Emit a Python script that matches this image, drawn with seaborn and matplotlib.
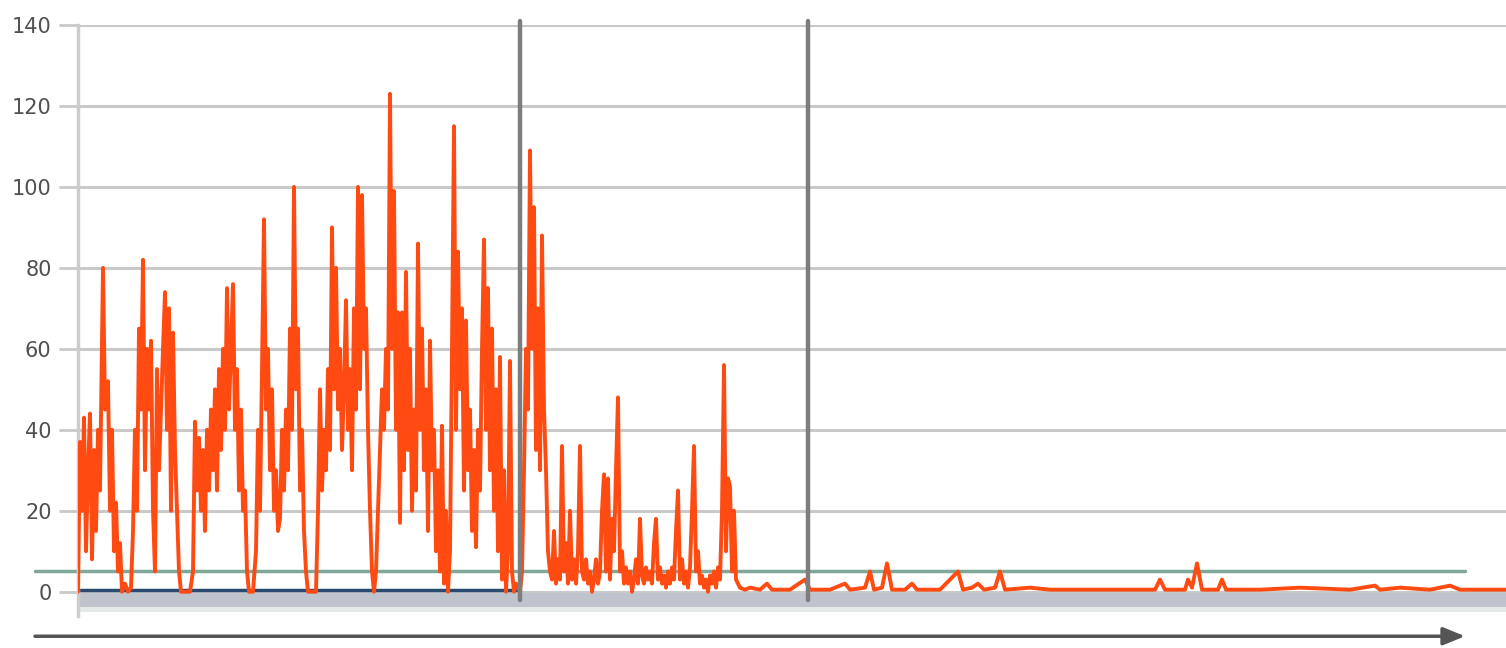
import numpy as np
import pandas as pd
import seaborn as sns
import matplotlib
matplotlib.use("Agg")
import matplotlib.pyplot as plt

# ---- data (time index, value) ----
t = [78, 80, 82, 84, 86, 88, 90, 92, 94, 96, 98, 100, 103, 105, 108, 110, 112, 114, 116, 118,
     120, 122, 125, 128, 131, 133, 135, 137, 139, 141, 143, 145, 147, 149, 151, 153, 155, 157,
     159, 161, 163, 165, 167, 169, 171, 173, 175, 177, 179, 181, 185, 190, 193, 195, 197, 199,
     201, 203, 205, 207, 209, 211, 213, 215, 217, 219, 221, 223, 225, 227, 229, 231, 233, 235,
     237, 239, 241, 243, 245, 247, 249, 253, 256, 258, 260, 262, 264, 266, 268, 270, 272, 274,
     276, 278, 280, 282, 284, 286, 288, 290, 292, 294, 296, 298, 300, 302, 304, 306, 308, 312,
     316, 318, 320, 322, 324, 326, 328, 330, 332, 334, 336, 338, 340, 342, 344, 346, 348, 350,
     352, 354, 356, 358, 360, 362, 364, 366, 368, 370, 372, 374, 376, 378, 380, 382, 384, 386,
     388, 390, 392, 394, 396, 398, 400, 402, 404, 406, 408, 410, 412, 414, 416, 418, 420, 422,
     424, 426, 428, 430, 432, 434, 436, 438, 440, 442, 444, 446, 448, 450, 452, 454, 456, 458,
     460, 462, 464, 466, 468, 470, 472, 474, 476, 478, 480, 482, 484, 486, 488, 490, 492, 494,
     496, 498, 500, 502, 504, 506, 508, 510, 512, 514, 516, 520, 522, 524, 526, 528, 530, 532,
     534, 536, 538, 540, 542, 544, 546, 548, 550, 552, 554, 556, 558, 560, 562, 564, 566, 568,
     570, 572, 574, 576, 578, 580, 582, 584, 586, 588, 590, 592, 594, 596, 598, 600, 602, 604,
     606, 608, 610, 612, 614, 616, 618, 620, 622, 624, 626, 628, 630, 632, 634, 636, 638, 640,
     642, 644, 646, 648, 650, 652, 654, 656, 658, 660, 662, 664, 666, 668, 670, 672, 674, 676,
     678, 680, 682, 684, 686, 688, 690, 692, 694, 696, 698, 700, 702, 704, 706, 708, 710, 712,
     714, 716, 718, 720, 722, 724, 726, 728, 730, 732, 734, 736, 738, 740, 745,
     750, 760, 767, 772, 790, 805, 810, 830, 845, 850, 865, 870, 874, 882, 887, 892, 905, 912,
     917, 940, 958, 963, 972, 978, 984, 995, 1000, 1005, 1030, 1050, 1100, 1155, 1160, 1165,
     1185, 1188, 1192, 1197, 1202, 1218, 1222, 1226, 1260, 1300, 1350, 1375, 1380, 1400, 1430,
     1450, 1460, 1506]
value = [0, 37, 20, 43, 10, 30, 44, 8, 35, 15, 40, 25, 80, 45, 52, 20, 40, 10, 22, 5,
         12, 0, 2, 0, 1, 15, 40, 20, 65, 45, 82, 30, 60, 45, 62, 20, 5, 55,
         30, 45, 60, 74, 40, 70, 20, 64, 35, 20, 5, 0, 0, 0, 5, 42, 25, 38,
         20, 35, 15, 40, 25, 45, 30, 50, 25, 55, 35, 60, 40, 75, 45, 60, 76, 40,
         55, 25, 45, 20, 25, 5, 0, 0, 10, 40, 20, 55, 92, 45, 60, 30, 50, 20,
         30, 15, 18, 40, 25, 45, 30, 65, 40, 100, 50, 65, 25, 40, 15, 5, 0, 0,
         0, 20, 50, 25, 40, 30, 55, 35, 90, 50, 80, 45, 60, 35, 50, 72, 40, 55,
         30, 70, 45, 100, 50, 98, 60, 70, 40, 20, 5, 0, 5, 20, 35, 50, 40, 60,
         45, 123, 60, 99, 40, 69, 17, 69, 30, 79, 35, 60, 20, 45, 25, 86, 40, 65,
         30, 50, 15, 62, 30, 40, 10, 30, 5, 41, 2, 20, 0, 10, 60, 115, 40, 84,
         50, 70, 25, 67, 30, 45, 15, 35, 11, 40, 25, 60, 87, 40, 75, 30, 65, 20,
         50, 10, 58, 3, 30, 0, 10, 57, 5, 0, 2, 0, 5, 30, 60, 45, 109, 60,
         95, 35, 70, 30, 88, 45, 30, 10, 5, 3, 15, 2, 8, 3, 36, 5, 12, 2,
         20, 3, 8, 2, 10, 36, 5, 3, 8, 2, 5, 0, 3, 8, 2, 5, 20, 29,
         5, 28, 3, 18, 10, 30, 48, 5, 10, 2, 6, 2, 5, 0, 3, 8, 2, 18,
         4, 2, 6, 3, 5, 2, 12, 18, 3, 6, 2, 4, 1, 5, 2, 6, 3, 15,
         25, 3, 8, 2, 5, 1, 6, 20, 36, 5, 10, 2, 4, 1, 3, 0, 4, 2,
         5, 1, 6, 3, 20, 56, 10, 28, 26, 5, 20, 3, 2, 1, 0.5,
         1, 0.5, 2, 0.5, 0.5, 3, 0.5, 0.5, 2, 0.5, 1, 5, 0.5, 1, 7, 0.5, 0.5, 2,
         0.5, 0.5, 5, 0.5, 1, 2, 0.5, 1, 5, 0.5, 1, 0.5, 0.5, 0.5, 3, 0.5,
         0.5, 3, 1, 7, 0.5, 0.5, 3, 0.5, 0.5, 1, 0.5, 1.5, 0.5, 1, 0.5,
         1.5, 0.5, 0.5]

baseline_t = [78, 520]
baseline_v = [0.5, 0.5]
events = [520, 808]
threshold = 5
threshold_span = [35, 1465]
yticks = [0, 20, 40, 60, 80, 100, 120, 140]

df = pd.DataFrame({"t": t, "value": value})
base_df = pd.DataFrame({"t": baseline_t, "value": baseline_v})

sns.set_theme(style="white")
plt.rcParams["font.family"] = ["DejaVu Sans"]

fig = plt.figure(figsize=(15.06, 6.48), dpi=100)
ax = fig.add_axes([78 / 1506, 32 / 648, 1 - 78 / 1506, 591 / 648])

ax.set_xlim(78, 1506)
ax.set_ylim(-6, 140)

# ground band under zero
ax.axhspan(-3.8, -0.4, color="#bfc3cc", zorder=1, lw=0)
ax.axhspan(-5.0, -3.8, color="#e4ebe6", zorder=1, lw=0)

for yv in yticks:
    ax.axhline(yv, color="#c9c9c9", lw=2.2, zorder=0)

sns.lineplot(data=df, x="t", y="value", ax=ax, color="#ff4a12", lw=2.8,
             zorder=3, estimator=None, sort=False)
sns.lineplot(data=base_df, x="t", y="value", ax=ax, color="#2a4a70", lw=2.5,
             zorder=2, estimator=None)

# threshold line (extends beyond the axes)
ax.plot(threshold_span, [threshold, threshold], color="#7fa898", lw=2.5,
        zorder=2.5, clip_on=False)

for ev in events:
    ax.plot([ev, ev], [-2, 141], color="#7d7d7d", lw=3.2, zorder=4, clip_on=False)

# arrow under the axis
ax.annotate("", xy=(threshold_span[1], -11), xytext=(threshold_span[0], -11),
            xycoords="data", textcoords="data",
            arrowprops=dict(arrowstyle="-|>,head_length=1.1,head_width=0.45",
                            color="#555555", lw=2.5, shrinkA=0, shrinkB=0),
            annotation_clip=False)

ax.set_yticks(yticks)
ax.set_yticklabels([str(v) for v in yticks], fontsize=15, color="#505050")
ax.set_xticks([])
ax.tick_params(axis="y", length=14, width=2, color="#c9c9c9", pad=5, left=True)
ax.set_xlabel("")
ax.set_ylabel("")
for s in ["top", "right", "bottom"]:
    ax.spines[s].set_visible(False)
ax.spines["left"].set_color("#cccccc")
ax.spines["left"].set_linewidth(2.5)
ax.grid(False)

fig.savefig("out.png", dpi=100)
